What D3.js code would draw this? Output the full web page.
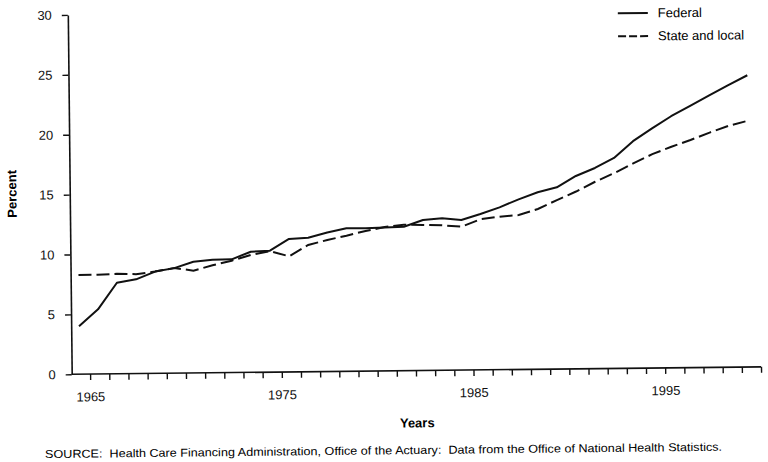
<!DOCTYPE html>
<html><head><meta charset="utf-8">
<script src="https://cdn.jsdelivr.net/npm/d3@7"></script>
<style>body{margin:0;background:#fff} svg{display:block;background:#fff}</style>
</head><body><svg id="chart" width="768" height="462"></svg>
<script>
// ---- data ----
const years = [1965,1966,1967,1968,1969,1970,1971,1972,1973,1974,1975,1976,1977,1978,1979,1980,1981,1982,
               1983,1984,1985,1986,1987,1988,1989,1990,1991,1992,1993,1994,1995,1996,1997,1998,1999,2000];
const federal = [4.0,5.4,7.6,7.87,8.5,8.77,9.29,9.43,9.45,10.07,10.14,11.1,11.19,11.6,11.94,11.92,11.96,12.02,
                 12.56,12.69,12.53,13.01,13.55,14.2,14.77,15.17,16.1,16.75,17.57,18.95,20.0,21.0,21.85,22.7,23.55,24.35];
const stateLocal = [8.28,8.29,8.35,8.3,8.5,8.78,8.54,8.97,9.34,9.8,10.1,9.65,10.58,10.98,11.32,11.7,12.01,12.19,
                    12.15,12.1,11.97,12.57,12.77,12.89,13.38,14.1,14.8,15.6,16.3,17.1,17.85,18.45,19.0,19.6,20.15,20.55];
const yTicks = [0,5,10,15,20,25,30];
const xLabelYears = [1965,1975,1985,1995];
const seriesNames = ["Federal","State and local"];
const xTitle = "Years";
const yTitle = "Percent";
const sourceNote = "SOURCE:  Health Care Financing Administration, Office of the Actuary:  Data from the Office of National Health Statistics.";

// ---- drawing ----
const FONT = "'Liberation Sans', Arial, Helvetica, sans-serif";
const svg = d3.select("#chart");
const g = svg.append("g").attr("transform", "translate(71.7,374.3) rotate(-0.62)")
  .style("font-family", FONT).attr("fill", "#000");

const x = d3.scaleLinear().domain([1965, 2000]).range([7.85, 678.8]);
const y = d3.scaleLinear().domain([0, 30]).range([0, -359.4]);
const tickShift = x(1965.55) - x(1965);

// x axis
const xAxis = d3.axisBottom(x).tickValues(years).tickSize(6).tickSizeOuter(0)
  .tickFormat(d => xLabelYears.includes(d) ? String(d) : "");
const xg = g.append("g").attr("transform", `translate(${tickShift},0)`).call(xAxis);
xg.select(".domain").remove();
xg.selectAll(".tick line").attr("stroke", "#111").attr("stroke-width", 1.4);
xg.selectAll(".tick text").attr("y", 18).attr("dy", "0.71em")
  .style("font-family", FONT).style("font-size", "13px").attr("fill", "#111");
g.append("line").attr("x1", 0).attr("x2", x(2000) + tickShift).attr("y1", 0).attr("y2", 0)
  .attr("stroke", "#111").attr("stroke-width", 1.6);

// y axis
const yAxis = d3.axisLeft(y).tickValues(yTicks).tickSize(6).tickSizeOuter(0).tickPadding(10);
const yg = g.append("g").call(yAxis);
yg.select(".domain").attr("stroke", "#111").attr("stroke-width", 1.6);
yg.selectAll(".tick line").attr("stroke", "#111").attr("stroke-width", 1.4);
yg.selectAll(".tick text").style("font-family", FONT).style("font-size", "13px").attr("fill", "#111");

// lines
const line = d3.line().x(d => x(d[0])).y(d => y(d[1]));
const fedData = years.map((yr, i) => [yr, federal[i]]);
const slData = years.map((yr, i) => [yr, stateLocal[i]]);
g.append("path").datum(fedData).attr("d", line).attr("fill", "none")
  .attr("stroke", "#111").attr("stroke-width", 2).attr("stroke-linejoin", "round");
g.append("path").datum(slData).attr("d", line).attr("fill", "none")
  .attr("stroke", "#111").attr("stroke-width", 2).attr("stroke-dasharray", "13,5");

// legend
const legend = g.append("g");
const legendRows = [
  {name: seriesNames[0], ly: -355, dash: null},
  {name: seriesNames[1], ly: -332, dash: "8,3"}
];
legendRows.forEach(r => {
  legend.append("line").attr("x1", 550).attr("x2", 580).attr("y1", r.ly).attr("y2", r.ly)
    .attr("stroke", "#111").attr("stroke-width", 2).attr("stroke-dasharray", r.dash);
  legend.append("text").attr("x", 590).attr("y", r.ly + 1).attr("dominant-baseline", "middle")
    .style("font-size", "13px").text(r.name);
});

// axis titles
g.append("text").attr("transform", "translate(-56.8,-181) rotate(-90)")
  .attr("text-anchor", "middle").attr("dominant-baseline", "middle")
  .style("font-size", "13px").style("font-weight", "bold").text(yTitle);
g.append("text").attr("x", 345).attr("y", 53.4).attr("text-anchor", "middle")
  .attr("dominant-baseline", "middle").style("font-size", "13px").style("font-weight", "bold").text(xTitle);

// source
g.append("text").attr("x", -27.5).attr("y", 83.5).style("font-size", "11.5px")
  .style("white-space", "pre").attr("textLength", 677).attr("lengthAdjust", "spacingAndGlyphs")
  .text(sourceNote);
</script>
</body></html>
